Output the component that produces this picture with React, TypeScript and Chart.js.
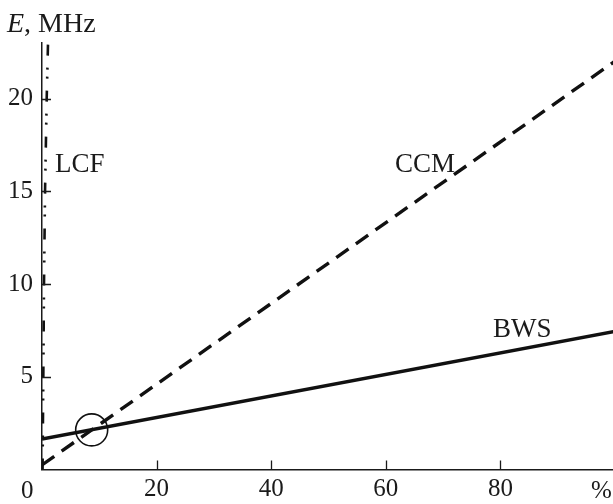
import React, { useEffect, useRef } from 'react';
import { Chart, registerables } from 'chart.js';

Chart.register(...registerables);

// ---- data ----
const xTickValues = [0, 20, 40, 60, 80];
const yTickValues = [5, 10, 15, 20];

const bwsX = [0, 100];
const bwsY = [1.65, 7.45];

const ccmX = [0, 100];
const ccmY = [0.25, 22.02];

const lcfX = [0.1, 0.23, 0.35, 0.53, 0.82, 1.05, 1.15];
const lcfY = [0, 5, 10, 15, 20, 23, 24];

const markerX = [8.67];
const markerY = [2.14];

const seriesNames = ['BWS', 'CCM', 'LCF'];

const toPoints = (xs: number[], ys: number[]) => xs.map((x, i) => ({ x, y: ys[i] }));

const SERIF = '"Liberation Serif", "Times New Roman", serif';
const INK = '#1a1a1a';

const overlayPlugin = {
  id: 'overlay',
  afterDraw(chart: any) {
    const { ctx, chartArea, scales } = chart;
    const xs = scales.x;
    const ys = scales.y;
    ctx.save();
    // inward tick marks
    ctx.strokeStyle = INK;
    ctx.lineWidth = 1.3;
    ctx.beginPath();
    for (const v of yTickValues) {
      const py = Math.round(ys.getPixelForValue(v)) + 0.5;
      ctx.moveTo(chartArea.left, py);
      ctx.lineTo(chartArea.left + 9, py);
    }
    for (const v of xTickValues) {
      if (v === 0) continue;
      const px = Math.round(xs.getPixelForValue(v)) + 0.5;
      ctx.moveTo(px, chartArea.bottom);
      ctx.lineTo(px, chartArea.bottom - 9);
    }
    ctx.stroke();

    // series labels
    ctx.fillStyle = INK;
    ctx.textBaseline = 'alphabetic';
    ctx.textAlign = 'left';
    ctx.font = `27px ${SERIF}`;
    const anchors: Record<string, [number, number]> = {
      LCF: [2.27, 16.06],
      CCM: [61.6, 16.06],
      BWS: [78.7, 7.16],
    };
    for (const name of seriesNames) {
      const [ax, ay] = anchors[name];
      ctx.fillText(name, xs.getPixelForValue(ax), ys.getPixelForValue(ay));
    }

    // axis title "E, MHz"
    ctx.font = `italic 28px ${SERIF}`;
    ctx.fillText('E', 7, 32);
    const w = ctx.measureText('E').width;
    ctx.font = `28px ${SERIF}`;
    ctx.fillText(', MHz', 7 + w, 32);

    // corner "0" and unit "%"
    ctx.font = `25px ${SERIF}`;
    ctx.fillText('0', 21, 498);
    ctx.fillText('%', 591, 498);
    ctx.restore();
  },
};

export default function App() {
  const ref = useRef<HTMLCanvasElement | null>(null);

  useEffect(() => {
    const canvas = ref.current;
    if (!canvas) return;
    const chart = new Chart(canvas, {
      type: 'scatter',
      data: {
        datasets: [
          {
            label: 'BWS',
            data: toPoints(bwsX, bwsY),
            showLine: true,
            borderColor: '#111',
            borderWidth: 3.4,
            pointRadius: 0,
          },
          {
            label: 'CCM',
            data: toPoints(ccmX, ccmY),
            showLine: true,
            borderColor: '#111',
            borderWidth: 3.4,
            borderDash: [15, 9],
            pointRadius: 0,
          },
          {
            label: 'LCF',
            data: toPoints(lcfX, lcfY),
            showLine: true,
            borderColor: '#111',
            borderWidth: 2.6,
            borderDash: [11, 12, 2, 7, 2, 12],
            pointRadius: 0,
          },
          {
            label: 'marker',
            data: toPoints(markerX, markerY),
            showLine: false,
            pointRadius: 16,
            pointBorderWidth: 1.6,
            pointBorderColor: '#111',
            pointBackgroundColor: 'rgba(0,0,0,0)',
          },
        ],
      } as any,
      options: {
        responsive: false,
        animation: false,
        devicePixelRatio: 1,
        layout: { autoPadding: false, padding: { top: 43, right: 0, left: 0, bottom: 0 } },
        plugins: { legend: { display: false }, tooltip: { enabled: false } },
        scales: {
          x: {
            type: 'linear',
            min: 0,
            max: 99.65,
            afterBuildTicks: (s: any) => {
              s.ticks = xTickValues.map((v) => ({ value: v }));
            },
            afterFit: (s: any) => {
              s.height = 34.4;
            },
            grid: { drawOnChartArea: false, drawTicks: false },
            border: { display: true, color: INK, width: 1.5 },
            ticks: {
              padding: 5,
              color: INK,
              font: { family: SERIF, size: 25 },
              maxRotation: 0,
              callback: (v: any) => (v === 0 ? '' : String(v)),
            },
          },
          y: {
            type: 'linear',
            min: 0,
            max: 23,
            afterBuildTicks: (s: any) => {
              s.ticks = yTickValues.map((v) => ({ value: v }));
            },
            afterFit: (s: any) => {
              s.width = 42;
            },
            grid: { drawOnChartArea: false, drawTicks: false },
            border: { display: true, color: INK, width: 1.5 },
            ticks: {
              padding: 9,
              color: INK,
              font: { family: SERIF, size: 25 },
              callback: (v: any) => String(v),
            },
          },
        },
      } as any,
      plugins: [overlayPlugin],
    });
    return () => chart.destroy();
  }, []);

  return (
    <div style={{ position: 'absolute', left: 0, top: 0, width: 613, height: 504, background: '#fff' }}>
      <canvas ref={ref} width={613} height={504} style={{ display: 'block' }} />
    </div>
  );
}
